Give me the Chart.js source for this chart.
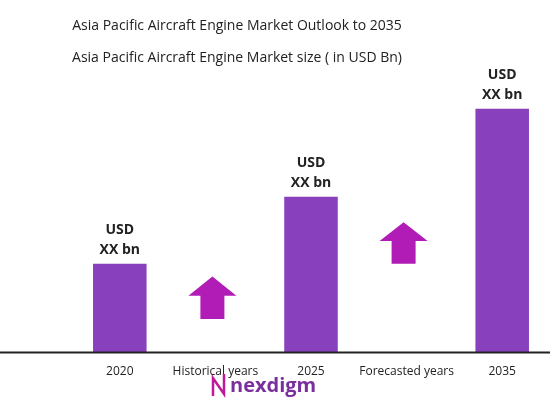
<!DOCTYPE html>
<html><head><script src="https://cdn.jsdelivr.net/npm/chart.js@4"></script>
<style>body{margin:0;background:#fff}#w{width:550px;height:414px}</style></head>
<body><div id="w"><canvas id="c"></canvas></div>
<script>
const categories=["2020","Historical years","2025","Forecasted years","2035"];
const marketValues=[90,null,158,null,247];
const valueLabels=["USD","XX bn"];
const arrowSpots=[null,[34,77],null,[90,132],null];
const titleLines=["Asia Pacific Aircraft Engine Market Outlook to 2035","Asia Pacific Aircraft Engine Market size ( in USD Bn)"];
const deco={id:'deco',afterDatasetsDraw(ch){
 const c=ch.ctx,x=ch.scales.x,y=ch.scales.y,m=ch.getDatasetMeta(0);
 c.save();
 c.fillStyle='#222';c.textAlign='center';c.font='500 14px "Open Sans", sans-serif';
 c.fillText(titleLines[0],237,30);c.fillText(titleLines[1],237,62);
 c.font='bold 14px "Open Sans", sans-serif';
 m.data.forEach((b,i)=>{if(marketValues[i]==null)return;
  c.fillText(valueLabels[0],b.x,b.y-30);c.fillText(valueLabels[1],b.x,b.y-10);});
 c.fillStyle='#b11cb6';
 arrowSpots.forEach((a,i)=>{if(!a)return;const cx=x.getPixelForValue(i)-3,yb=y.getPixelForValue(a[0]),yt=y.getPixelForValue(a[1]);
  const h=yb-yt;c.beginPath();c.moveTo(cx,yt);c.lineTo(cx+24,yt+h*0.45);c.lineTo(cx+12,yt+h*0.45);c.lineTo(cx+12,yb);
  c.lineTo(cx-12,yb);c.lineTo(cx-12,yt+h*0.45);c.lineTo(cx-24,yt+h*0.45);c.closePath();c.fill();});
 c.strokeStyle='#222';c.lineWidth=2;const by=y.getPixelForValue(0);c.beginPath();c.moveTo(0,by);c.lineTo(550,by);c.stroke();
 c.font='bold 20px "Open Sans", sans-serif';c.fillStyle='#7b2f9e';c.textAlign='left';c.fillText('nexdigm',230,392);
 c.strokeStyle='#c0189a';c.lineWidth=2.5;c.beginPath();c.moveTo(213,396);c.lineTo(213,378);c.lineTo(224,394);c.lineTo(224,374);c.stroke();
 c.restore();}};
new Chart(document.getElementById('c'),{type:'bar',
 data:{labels:categories,datasets:[{data:marketValues,backgroundColor:'#8840bd',barPercentage:0.56,categoryPercentage:1}]},
 options:{responsive:true,maintainAspectRatio:false,animation:false,
  layout:{padding:{left:72,right:0,top:25,bottom:31}},
  plugins:{legend:{display:false},tooltip:{enabled:false}},
  scales:{x:{grid:{display:false},border:{display:false},ticks:{color:'#222',font:{size:12,family:'"Open Sans", sans-serif'},maxRotation:0,autoSkip:false,padding:4}},
   y:{display:false,min:0,max:332}}},
 plugins:[deco]});
</script></body></html>
